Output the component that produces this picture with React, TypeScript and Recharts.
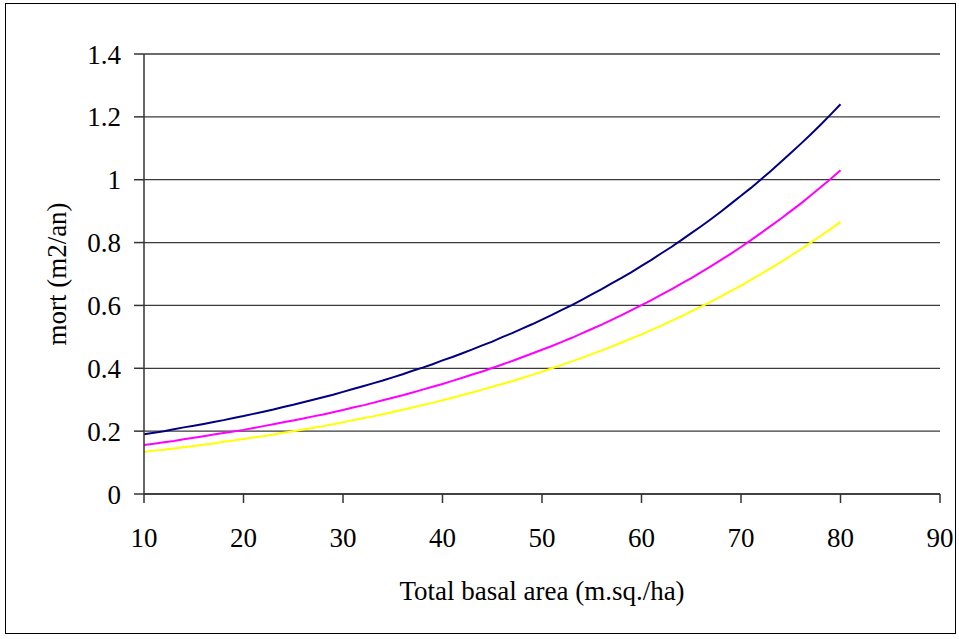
import { LineChart, Line, XAxis, YAxis, CartesianGrid, Label } from 'recharts';

// surface terrière totale (m²/ha), de 10 à 80
const basalArea: number[] = [
  10, 11, 12, 13, 14, 15, 16, 17, 18, 19,
  20, 21, 22, 23, 24, 25, 26, 27, 28, 29,
  30, 31, 32, 33, 34, 35, 36, 37, 38, 39,
  40, 41, 42, 43, 44, 45, 46, 47, 48, 49,
  50, 51, 52, 53, 54, 55, 56, 57, 58, 59,
  60, 61, 62, 63, 64, 65, 66, 67, 68, 69,
  70, 71, 72, 73, 74, 75, 76, 77, 78, 79,
  80,
];

const mortNavy: number[] = [
  0.190, 0.195, 0.200, 0.206, 0.212, 0.217, 0.223, 0.229, 0.235, 0.242,
  0.248, 0.255, 0.262, 0.269, 0.277, 0.284, 0.292, 0.300, 0.308, 0.316,
  0.325, 0.334, 0.343, 0.352, 0.361, 0.371, 0.381, 0.392, 0.402, 0.413,
  0.425, 0.436, 0.448, 0.460, 0.473, 0.485, 0.499, 0.512, 0.526, 0.540,
  0.555, 0.570, 0.586, 0.601, 0.618, 0.635, 0.652, 0.670, 0.688, 0.706,
  0.726, 0.745, 0.766, 0.786, 0.808, 0.830, 0.852, 0.875, 0.899, 0.924,
  0.949, 0.974, 1.001, 1.028, 1.056, 1.085, 1.114, 1.144, 1.175, 1.207,
  1.240,
];

const mortMagenta: number[] = [
  0.156, 0.160, 0.165, 0.169, 0.174, 0.179, 0.184, 0.189, 0.194, 0.199,
  0.204, 0.210, 0.216, 0.222, 0.228, 0.234, 0.240, 0.247, 0.253, 0.260,
  0.267, 0.275, 0.282, 0.290, 0.298, 0.306, 0.314, 0.323, 0.332, 0.341,
  0.350, 0.360, 0.370, 0.380, 0.390, 0.401, 0.412, 0.423, 0.435, 0.447,
  0.459, 0.471, 0.484, 0.497, 0.511, 0.525, 0.539, 0.554, 0.569, 0.585,
  0.601, 0.617, 0.634, 0.651, 0.669, 0.687, 0.706, 0.725, 0.745, 0.765,
  0.786, 0.808, 0.830, 0.853, 0.876, 0.900, 0.924, 0.950, 0.976, 1.002,
  1.030,
];

const mortYellow: number[] = [
  0.134, 0.138, 0.141, 0.145, 0.149, 0.153, 0.157, 0.161, 0.166, 0.170,
  0.175, 0.180, 0.184, 0.189, 0.195, 0.200, 0.205, 0.211, 0.216, 0.222,
  0.228, 0.235, 0.241, 0.247, 0.254, 0.261, 0.268, 0.275, 0.283, 0.290,
  0.298, 0.306, 0.315, 0.323, 0.332, 0.341, 0.350, 0.359, 0.369, 0.379,
  0.389, 0.400, 0.411, 0.422, 0.433, 0.445, 0.457, 0.469, 0.482, 0.495,
  0.508, 0.522, 0.536, 0.551, 0.565, 0.581, 0.596, 0.612, 0.629, 0.646,
  0.663, 0.681, 0.700, 0.719, 0.738, 0.758, 0.778, 0.800, 0.821, 0.843,
  0.866,
];

const xTicks = [10, 20, 30, 40, 50, 60, 70, 80, 90];
const yTicks = [0, 0.2, 0.4, 0.6, 0.8, 1, 1.2, 1.4];

const FONT = "'Times New Roman', 'Liberation Serif', 'DejaVu Serif', serif";

const datos = basalArea.map((x, i) => ({
  x,
  navy: mortNavy[i],
  magenta: mortMagenta[i],
  yellow: mortYellow[i],
}));

const tickStyle = { fill: '#000', fontSize: 27, fontFamily: FONT };

export default function App() {
  return (
    <div
      style={{
        position: 'absolute',
        left: 0,
        top: 0,
        width: 959,
        height: 639,
        background: '#fff',
        fontFamily: FONT,
      }}
    >
      <div
        style={{
          position: 'absolute',
          left: 5,
          top: 3,
          width: 951,
          height: 631,
          border: '1.5px solid #000',
          boxSizing: 'border-box',
        }}
      />
      <LineChart
        width={959}
        height={639}
        data={datos}
        margin={{ top: 54, right: 19, left: 44, bottom: 45 }}
        style={{ position: 'absolute', left: 0, top: 0, fontFamily: FONT }}
      >
        <CartesianGrid vertical={false} stroke="#3a3a3a" strokeWidth={1.3} />
        <XAxis
          dataKey="x"
          type="number"
          domain={[10, 90]}
          ticks={xTicks}
          height={100}
          tickSize={9}
          tickMargin={25}
          tick={tickStyle}
          axisLine={{ stroke: '#333', strokeWidth: 1.5 }}
          tickLine={{ stroke: '#333', strokeWidth: 1.5 }}
        >
          <Label
            content={(props: any) => {
              const vb = props.viewBox;
              return (
                <text
                  x={vb.x + vb.width / 2}
                  y={600}
                  textAnchor="middle"
                  fontSize={27}
                  fontFamily={FONT}
                  fill="#000"
                >
                  Total basal area (m.sq./ha)
                </text>
              );
            }}
          />
        </XAxis>
        <YAxis
          type="number"
          domain={[0, 1.4]}
          ticks={yTicks}
          width={100}
          tickSize={10}
          tickMargin={13}
          tick={tickStyle}
          axisLine={{ stroke: '#333', strokeWidth: 1.5 }}
          tickLine={{ stroke: '#333', strokeWidth: 1.5 }}
        >
          <Label
            content={(props: any) => {
              const vb = props.viewBox;
              const cx = vb.x + 13;
              const cy = vb.y + vb.height / 2;
              return (
                <text
                  x={cx}
                  y={cy}
                  transform={`rotate(-90, ${cx}, ${cy})`}
                  textAnchor="middle"
                  dominantBaseline="central"
                  fontSize={27}
                  fontFamily={FONT}
                  fill="#000"
                >
                  mort (m2/an)
                </text>
              );
            }}
          />
        </YAxis>
        <Line type="linear" dataKey="navy" stroke="#000080" strokeWidth={2} dot={false} isAnimationActive={false} />
        <Line type="linear" dataKey="magenta" stroke="#FF00FF" strokeWidth={2} dot={false} isAnimationActive={false} />
        <Line type="linear" dataKey="yellow" stroke="#FFFF00" strokeWidth={2} dot={false} isAnimationActive={false} />
      </LineChart>
    </div>
  );
}
